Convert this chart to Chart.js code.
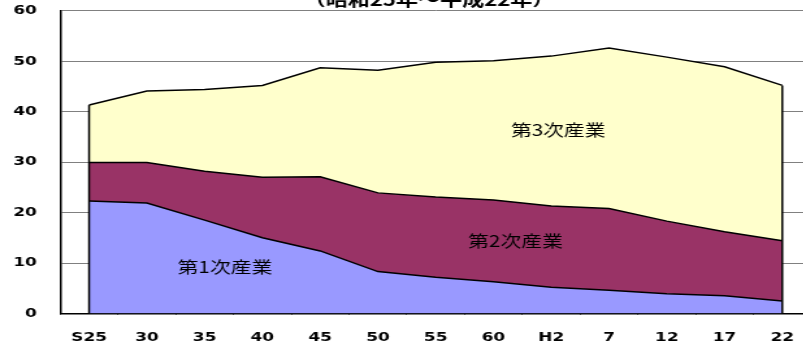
<!DOCTYPE html>
<html>
<head>
<meta charset="utf-8">
<script src="https://cdn.jsdelivr.net/npm/chart.js@4.4.1/dist/chart.umd.min.js"></script>
<style>
  html, body { margin: 0; padding: 0; background: #fff; }
  #wrap { position: relative; width: 803px; height: 349px; overflow: hidden; }
  #chart { position: absolute; left: 0; top: 0; }
</style>
</head>
<body>
<!-- the source picture is stretched sideways, so the canvas is too -->
<div id="wrap"><canvas id="chart" width="640" height="349" style="width:832px;height:349px"></canvas></div>
<script>
const years = ["S25", "30", "35", "40", "45", "50", "55", "60", "H2", "7", "12", "17", "22"];
const primary = [22.3, 21.9, 18.5, 15.0, 12.4, 8.3, 7.2, 6.3, 5.2, 4.6, 3.9, 3.5, 2.5];
const secondary = [7.6, 8.0, 9.7, 12.0, 14.7, 15.6, 15.9, 16.2, 16.1, 16.2, 14.4, 12.7, 11.9];
const tertiary = [11.4, 14.2, 16.2, 18.2, 21.6, 24.3, 26.7, 27.6, 29.7, 31.8, 32.5, 32.7, 30.8];
const yTicks = [0, 10, 20, 30, 40, 50, 60];
const sectors = ["第1次産業", "第2次産業", "第3次産業"];
const title = "（昭和25年～平成22年）";

const tickFont = { family: "DejaVu Sans", size: 13, weight: "bold" };

// edges of the stacked area, sector names and the (cut off) title
const overlay = {
  id: "overlay",
  afterDatasetsDraw(chart) {
    const { ctx, scales: { x, y } } = chart;
    ctx.save();
    ctx.strokeStyle = "#000";
    ctx.lineWidth = 1.5;
    [0, years.length - 1].forEach((i) => {
      const px = x.getPixelForValue(i);
      ctx.beginPath();
      ctx.moveTo(px, y.getPixelForValue(0));
      ctx.lineTo(px, y.getPixelForValue(primary[i] + secondary[i] + tertiary[i]));
      ctx.stroke();
    });

    const spots = [[2.35, 9.2], [7.38, 14.3], [8.12, 36.3]];
    ctx.fillStyle = "#000";
    ctx.font = '16px "Noto Sans CJK JP"';
    ctx.textAlign = "center";
    ctx.textBaseline = "middle";
    sectors.forEach((name, i) => {
      ctx.fillText(name, x.getPixelForValue(spots[i][0]), y.getPixelForValue(spots[i][1]));
    });

    ctx.font = 'bold 17px "Noto Sans CJK JP"';
    ctx.textBaseline = "alphabetic";
    ctx.fillText(title, 330, 5.5);
    ctx.restore();
  },
};

new Chart(document.getElementById("chart"), {
  type: "line",
  data: {
    labels: years,
    datasets: [
      { label: sectors[0], data: primary, backgroundColor: "#9999ff", borderColor: "#000", fill: "origin" },
      { label: sectors[1], data: secondary, backgroundColor: "#993366", borderColor: "#000", fill: "-1" },
      { label: sectors[2], data: tertiary, backgroundColor: "#ffffcc", borderColor: "#000", fill: "-1" },
    ],
  },
  options: {
    responsive: false,
    animation: false,
    layout: { padding: { top: 10.7, right: 16, left: 0, bottom: 0 } },
    elements: {
      line: { borderWidth: 1.5, tension: 0 },
      point: { radius: 0 },
    },
    plugins: { legend: { display: false }, tooltip: { enabled: false } },
    scales: {
      x: {
        offset: true,
        grid: { offset: true, drawOnChartArea: false, drawTicks: true, tickLength: -4, color: "#000", lineWidth: 1 },
        border: { color: "#000", width: 1.5 },
        ticks: { padding: 20, color: "#000", font: tickFont, maxRotation: 0, autoSkip: false },
        afterFit(s) { s.height = 35.5; },
      },
      y: {
        stacked: true,
        min: 0,
        max: 60,
        afterBuildTicks(s) { s.ticks = yTicks.map((v) => ({ value: v })); },
        grid: { color: "#808080", lineWidth: 1, drawTicks: true, tickLength: 18, tickColor: "rgba(0,0,0,0)" },
        border: { color: "#000", width: 1.5 },
        ticks: { padding: 0, color: "#000", font: tickFont },
        afterFit(s) { s.width = 46.3; },
      },
    },
  },
  plugins: [overlay],
});
</script>
</body>
</html>
